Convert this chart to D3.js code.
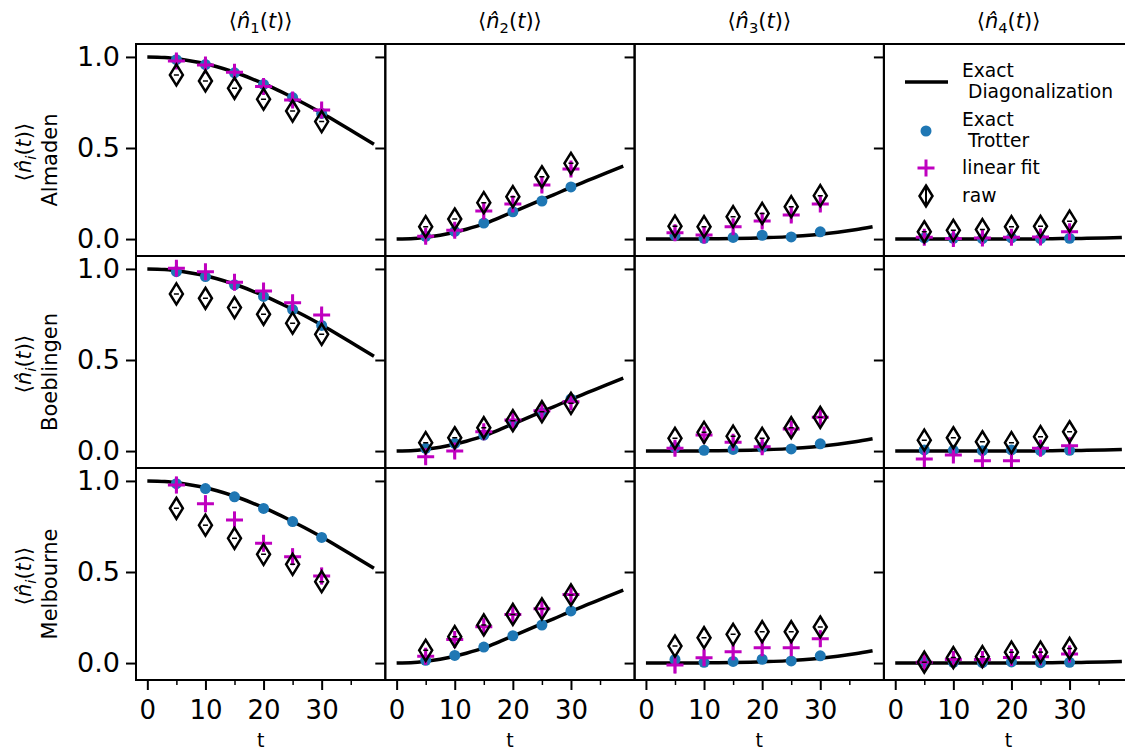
<!DOCTYPE html>
<html>
<head>
<meta charset="utf-8">
<script src="https://cdn.jsdelivr.net/npm/d3@7"></script>
<style>
    body { margin: 0; background: #fff; }
    text { font-family: "DejaVu Sans", sans-serif; fill: #000; }
</style>
</head>
<body>
<svg id="chart" width="1125" height="753"></svg>
<script>
var devices = ['Almaden', 'Boeblingen', 'Melbourne'];
var sites = ['1', '2', '3', '4'];

var tSample = [5, 10, 15, 20, 25, 30];
var tExact = [0, 3, 6, 9, 12, 15, 18, 21, 24, 27, 30, 33, 36, 39];

var xTicks = [0, 10, 20, 30];
var xMinorTicks = [5, 15, 25, 35];
var yTicks = [0, 0.5, 1.0];

// exact diagonalization curves, one per site
var exactN1 = [1.0, 0.997, 0.986, 0.969, 0.946, 0.916, 0.880, 0.840, 0.794, 0.744, 0.692, 0.636, 0.578, 0.520];
var exactN2 = [0, 0.003, 0.014, 0.031, 0.054, 0.083, 0.122, 0.162, 0.203, 0.243, 0.284, 0.323, 0.362, 0.400];
var exactN3 = [0, 0, 0.0005, 0.001, 0.002, 0.003, 0.005, 0.008, 0.012, 0.018, 0.026, 0.037, 0.051, 0.068];
var exactN4 = [0, 0, 0, 0, 0, 0, 0, 0.001, 0.001, 0.002, 0.003, 0.004, 0.006, 0.009];

// exact trotter points
var trotterN1 = [0.985, 0.958, 0.913, 0.849, 0.777, 0.690];
var trotterN2 = [0.015, 0.042, 0.088, 0.150, 0.209, 0.286];
var trotterN3 = [0.020, 0.004, 0.009, 0.021, 0.012, 0.040];
var trotterN4 = [0.006, 0.004, 0.002, 0.006, 0.002, 0.004];

// linear fit / raw per device, one row per site
var fitAlmaden = [
    [0.978, 0.956, 0.916, 0.837, 0.764, 0.709],
    [0.016, 0.049, 0.154, 0.192, 0.297, 0.385],
    [0.035, 0.022, 0.068, 0.099, 0.132, 0.192],
    [0.010, 0.003, 0.006, 0.010, 0.012, 0.040]
];
var rawAlmaden = [
    [0.901, 0.868, 0.828, 0.768, 0.703, 0.645],
    [0.068, 0.110, 0.200, 0.233, 0.342, 0.416],
    [0.071, 0.068, 0.123, 0.141, 0.178, 0.238],
    [0.040, 0.048, 0.052, 0.068, 0.070, 0.098]
];
var fitBoeblingen = [
    [1.004, 0.985, 0.927, 0.879, 0.815, 0.747],
    [-0.031, 0.000, 0.106, 0.170, 0.222, 0.271],
    [0.015, 0.088, 0.048, 0.024, 0.121, 0.185],
    [-0.044, -0.022, -0.053, -0.053, 0.015, 0.029]
];
var rawBoeblingen = [
    [0.863, 0.839, 0.788, 0.751, 0.702, 0.641],
    [0.046, 0.073, 0.128, 0.167, 0.216, 0.262],
    [0.070, 0.103, 0.082, 0.070, 0.128, 0.185],
    [0.060, 0.073, 0.051, 0.046, 0.079, 0.106]
];
var fitMelbourne = [
    [0.978, 0.875, 0.786, 0.658, 0.584, 0.478],
    [0.038, 0.130, 0.200, 0.267, 0.298, 0.377],
    [-0.011, 0.029, 0.062, 0.084, 0.084, 0.134],
    [0.005, 0.020, 0.020, 0.030, 0.035, 0.050]
];
var rawMelbourne = [
    [0.850, 0.757, 0.685, 0.597, 0.542, 0.447],
    [0.070, 0.145, 0.209, 0.267, 0.298, 0.374],
    [0.093, 0.139, 0.158, 0.172, 0.172, 0.198],
    [0.005, 0.030, 0.035, 0.060, 0.060, 0.080]
];
var fitErr = [0.04, 0.04, 0.045];

var exactAll = [exactN1, exactN2, exactN3, exactN4];
var trotterAll = [trotterN1, trotterN2, trotterN3, trotterN4];
var fitAll = [fitAlmaden, fitBoeblingen, fitMelbourne];
var rawAll = [rawAlmaden, rawBoeblingen, rawMelbourne];

var gridLeft = 136, gridTop = 44, colW = 249.3, rowH = 212;
var blue = '#1f77b4', magenta = '#bf00bf';
var labelSize = 21;

var svg = d3.select('#chart');

var x = d3.scaleLinear().domain([-1.95, 40.95]).range([0, colW]);
var y = d3.scaleLinear().domain([-0.093, 1.071]).range([rowH, 0]);

var line = d3.line()
    .x(function(d) { return x(d[0]); })
    .y(function(d) { return y(d[1]); })
    .curve(d3.curveMonotoneX);

function diamondPath(hw, hh) {
    return 'M0,' + (-hh) + 'L' + hw + ',0L0,' + hh + 'L' + (-hw) + ',0Z';
}

function plusPath(h) {
    return 'M' + (-h) + ',0H' + h + 'M0,' + (-h) + 'V' + h;
}

// math text like <n_i(t)> with tspans
function mathLabel(sel, sub, size) {
    sel.append('tspan').text('\u27E8');
    sel.append('tspan').attr('font-style', 'italic').text('n\u0302');
    sel.append('tspan').attr('font-size', size * 0.7).attr('dy', size * 0.25)
        .attr('font-style', sub === 'i' ? 'italic' : 'normal').text(sub);
    sel.append('tspan').attr('dy', -size * 0.25).text('(');
    sel.append('tspan').attr('font-style', 'italic').text('t');
    sel.append('tspan').text(')\u27E9');
}

devices.forEach(function(dev, r) {
    sites.forEach(function(site, c) {
        var g = svg.append('g')
            .attr('transform', 'translate(' + (gridLeft + c * colW) + ',' + (gridTop + r * rowH) + ')');

        var clipId = 'clip-' + r + '-' + c;
        g.append('clipPath').attr('id', clipId)
            .append('rect').attr('width', colW).attr('height', rowH);

        var plot = g.append('g').attr('clip-path', 'url(#' + clipId + ')');

        plot.append('path')
            .datum(tExact.map(function(t, i) { return [t, exactAll[c][i]]; }))
            .attr('d', line)
            .attr('fill', 'none')
            .attr('stroke', '#000')
            .attr('stroke-width', 3.5);

        plot.selectAll('circle.trotter')
            .data(tSample.map(function(t, i) { return [t, trotterAll[c][i]]; }))
            .enter().append('circle')
            .attr('class', 'trotter')
            .attr('cx', function(d) { return x(d[0]); })
            .attr('cy', function(d) { return y(d[1]); })
            .attr('r', 5.5)
            .attr('fill', blue);

        var fit = tSample.map(function(t, i) { return [t, fitAll[r][c][i]]; });
        plot.selectAll('line.fiterr')
            .data(fit)
            .enter().append('line')
            .attr('class', 'fiterr')
            .attr('x1', function(d) { return x(d[0]); })
            .attr('x2', function(d) { return x(d[0]); })
            .attr('y1', function(d) { return y(d[1] - fitErr[r]); })
            .attr('y2', function(d) { return y(d[1] + fitErr[r]); })
            .attr('stroke', magenta)
            .attr('stroke-width', 2.5);
        plot.selectAll('path.fit')
            .data(fit)
            .enter().append('path')
            .attr('class', 'fit')
            .attr('transform', function(d) { return 'translate(' + x(d[0]) + ',' + y(d[1]) + ')'; })
            .attr('d', plusPath(8.5))
            .attr('stroke', magenta)
            .attr('stroke-width', 3)
            .attr('fill', 'none');

        var raw = plot.selectAll('g.raw')
            .data(tSample.map(function(t, i) { return [t, rawAll[r][c][i]]; }))
            .enter().append('g')
            .attr('class', 'raw')
            .attr('transform', function(d) { return 'translate(' + x(d[0]) + ',' + y(d[1]) + ')'; });
        raw.append('line')
            .attr('x1', -2.5).attr('x2', 2.5)
            .attr('stroke', '#000').attr('stroke-width', 1.5);
        raw.append('path')
            .attr('d', diamondPath(6.5, 10.5))
            .attr('fill', 'none')
            .attr('stroke', '#000')
            .attr('stroke-width', 2.5)
            .attr('stroke-linejoin', 'miter');

        // y ticks, labels on first column only
        var yAxis = g.append('g')
            .call(d3.axisLeft(y).tickValues(yTicks).tickSize(10).tickPadding(6)
                .tickFormat(c === 0 ? d3.format('.1f') : function() { return ''; }));
        yAxis.select('.domain').remove();
        yAxis.selectAll('line').attr('stroke-width', 2);
        yAxis.selectAll('text').attr('font-size', 27).attr('font-family', 'DejaVu Sans');

        if (r === devices.length - 1) {
            var xAxis = g.append('g').attr('transform', 'translate(0,' + rowH + ')')
                .call(d3.axisBottom(x).tickValues(xTicks).tickSize(10).tickPadding(11)
                    .tickFormat(d3.format('d')));
            xAxis.select('.domain').remove();
            xAxis.selectAll('line').attr('stroke-width', 2);
            xAxis.selectAll('text').attr('font-size', 26).attr('font-family', 'DejaVu Sans');

            var minor = g.append('g').attr('transform', 'translate(0,' + rowH + ')')
                .call(d3.axisBottom(x).tickValues(xMinorTicks).tickSize(5).tickFormat(''));
            minor.select('.domain').remove();
            minor.selectAll('line').attr('stroke-width', 1.5);

            g.append('text')
                .attr('x', colW / 2)
                .attr('y', rowH + 67)
                .attr('text-anchor', 'middle')
                .attr('font-size', 19)
                .text('t');
        }

        if (r === 0) {
            var title = g.append('text')
                .attr('x', colW / 2)
                .attr('y', -16)
                .attr('text-anchor', 'middle')
                .attr('font-size', labelSize);
            mathLabel(title, site, labelSize);
        }

        g.append('rect')
            .attr('width', colW).attr('height', rowH)
            .attr('fill', 'none')
            .attr('stroke', '#000')
            .attr('stroke-width', 2);
    });

    // row label (two lines, rotated)
    var cy = gridTop + r * rowH + rowH / 2;
    var l1 = svg.append('text')
        .attr('transform', 'translate(31,' + (cy + 2) + ') rotate(-90)')
        .attr('text-anchor', 'middle')
        .attr('font-size', labelSize);
    mathLabel(l1, 'i', labelSize);
    svg.append('text')
        .attr('transform', 'translate(57,' + (cy + 10) + ') rotate(-90)')
        .attr('text-anchor', 'middle')
        .attr('font-size', labelSize)
        .text(dev);
});

// legend in the top right panel
var legend = svg.append('g').attr('font-size', 18.7);
legend.append('line')
    .attr('x1', 905).attr('x2', 948).attr('y1', 82).attr('y2', 82)
    .attr('stroke', '#000').attr('stroke-width', 3.5);
legend.append('text').attr('x', 962).attr('y', 77).text('Exact');
legend.append('text').attr('x', 968).attr('y', 98).text('Diagonalization');

legend.append('circle').attr('cx', 926).attr('cy', 131).attr('r', 5.5).attr('fill', blue);
legend.append('text').attr('x', 962).attr('y', 126).text('Exact');
legend.append('text').attr('x', 968).attr('y', 147).text('Trotter');

legend.append('path')
    .attr('transform', 'translate(926,168)')
    .attr('d', plusPath(8.5))
    .attr('stroke', magenta).attr('stroke-width', 3).attr('fill', 'none');
legend.append('text').attr('x', 962).attr('y', 174).text('linear fit');

var legRaw = legend.append('g').attr('transform', 'translate(926,196)');
legRaw.append('line').attr('y1', -11).attr('y2', 11).attr('stroke', '#000').attr('stroke-width', 2);
legRaw.append('path')
    .attr('d', diamondPath(6.5, 10.5))
    .attr('fill', 'none').attr('stroke', '#000').attr('stroke-width', 2.5);
legend.append('text').attr('x', 962).attr('y', 202).text('raw');
</script>
</body>
</html>
